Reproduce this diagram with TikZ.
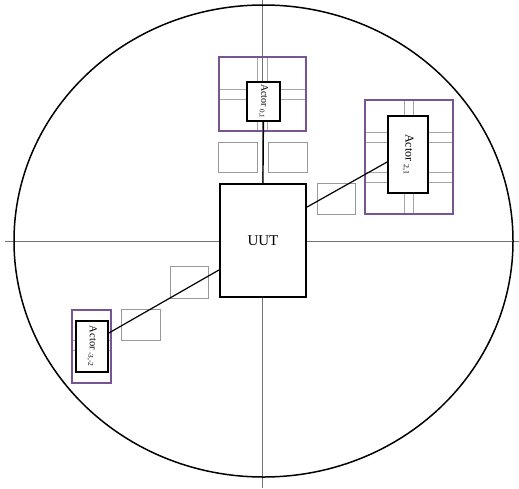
\documentclass[tikz,border=0pt]{standalone}
\usepackage{fontspec}
\setmainfont{Liberation Serif}
\definecolor{frame}{RGB}{118,84,150}
\tikzset{
    box/.style={draw=black, line width=2.2pt, fill=white, inner sep=0pt},
    actorbox/.style={draw=black, line width=1.7pt, fill=white, inner sep=0pt, rotate=-90, font=\fontsize{10}{12}\selectfont},
    frame/.style={draw=frame, line width=1.3pt},
    grid/.style={draw=gray!70, line width=0.9pt},
    slot/.style={draw=gray!80, line width=0.9pt},
}
\begin{document}
\begin{tikzpicture}[x=1pt, y=-1pt]
    \useasboundingbox (0,0) rectangle (519,488);
    % axes and circle
    \draw[gray!90!black, line width=0.9pt] (5,241.5) -- (519,241.5);
    \draw[gray!90!black, line width=0.9pt] (262,0) -- (262,488);
    \draw[line width=1.5pt] (263.5,241) ellipse [x radius=249.5, y radius=236];

    % Actor 0,1
    \draw[grid] (257,57) -- (257,131);
    \draw[grid] (267,57) -- (267,131);
    \draw[grid] (219,89) -- (306,89);
    \draw[grid] (219,99) -- (306,99);
    \draw[frame] (219,57) rectangle (306,131);
    \draw[slot] (218,142) rectangle (257,172);
    \draw[slot] (268,142) rectangle (307,172);

    % Actor 2,1
    \draw[grid] (404,100) -- (404,214);
    \draw[grid] (413,100) -- (413,214);
    \foreach \y in {132,142,172,182}
        \draw[grid] (365,\y) -- (453,\y);
    \draw[frame] (365,100) rectangle (453,214);
    \draw[slot] (317,183) rectangle (355,214);

    % Actor -3,-2
    \draw[grid] (72,340) -- (111,340);
    \draw[grid] (72,350) -- (111,350);
    \draw[frame] (72,310) rectangle (111,383);
    \draw[slot] (121,309) rectangle (160,340);
    \draw[slot] (170,266) rectangle (208,298);

    \node[box, minimum width=86pt, minimum height=113pt, font=\fontsize{15}{18}\selectfont] (uut) at (263,240.5) {UUT};
    \node[actorbox, minimum width=39pt, minimum height=33pt] (a01) at (263.5,101.5) {Actor \textsubscript{0,1}};
    \node[actorbox, minimum width=77pt, minimum height=40pt, font=\fontsize{12}{14}\selectfont] (a21) at (408,154.5) {Actor \textsubscript{2,1}};
    \node[actorbox, minimum width=51pt, minimum height=32pt, font=\fontsize{10.5}{12}\selectfont] (a32) at (92,346.5) {Actor \textsubscript{-3,-2}};

    \draw[line width=1.2pt] (a01.east) -- (uut.north);
    \draw[line width=1.2pt] ([yshift=33.5pt]uut.east) -- ([yshift=-7.5pt]a21.south);
    \draw[line width=1.2pt] ([yshift=-29.5pt]uut.west) -- ([yshift=13.5pt]a32.north);
\end{tikzpicture}
\end{document}
